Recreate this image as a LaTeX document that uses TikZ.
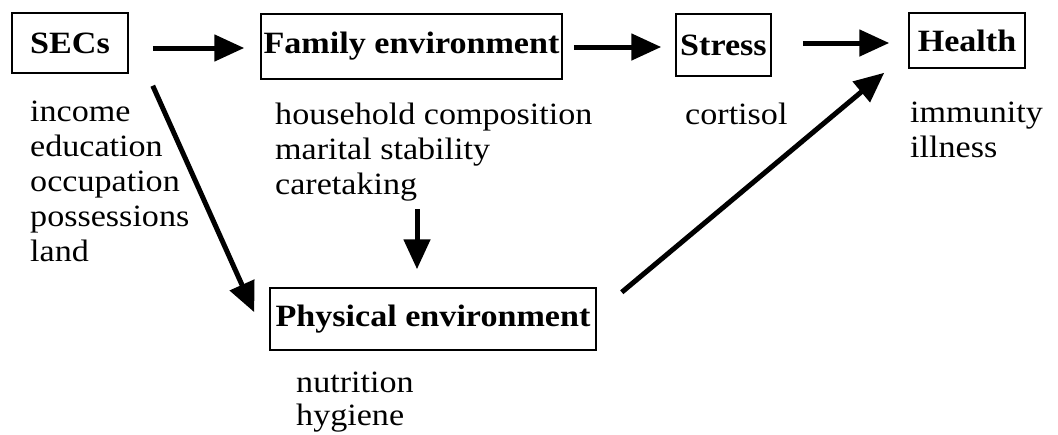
\documentclass[tikz,border=0pt]{standalone}
\usepackage{fontspec}
\setmainfont{Liberation Serif}[FakeStretch=1.1]
\usetikzlibrary{arrows.meta,calc}
\tikzset{
  box/.style={draw,line width=1.5pt,inner sep=0pt,font=\fontsize{31}{35}\selectfont\bfseries},
  lab/.style={anchor=base west,inner sep=0pt,align=left,font=\fontsize{31}{35}\selectfont},
  arr/.style={line width=5pt,-{Triangle[length=30pt,width=26pt]}},
}
\begin{document}
\begin{tikzpicture}[x=1pt,y=-1pt]
\useasboundingbox (0,0) rectangle (1058,434);
\node[box,minimum width=116pt,minimum height=60pt] (secs) at (70,43) {SECs};
\node[box,minimum width=301pt,minimum height=65pt] (fam) at (411.5,46.5) {Family environment};
\node[box,minimum width=95pt,minimum height=62pt] (stress) at (723.5,45) {Stress};
\node[box,minimum width=116pt,minimum height=55pt] (health) at (967,40.5) {Health};
\node[box,minimum width=326pt,minimum height=62pt] (phys) at (433,319) {Physical environment};

\node[lab] (secslab) at (30,261) {income\\education\\occupation\\possessions\\land};
\node[lab] (famlab) at (275,194) {household composition\\marital stability\\caretaking};
\node[lab] (stresslab) at (685,124) {cortisol};
\node[lab] (healthlab) at (910,157) {immunity\\illness};
\node[lab,font=\fontsize{31}{33}\selectfont] (physlab) at (296,425) {nutrition\\hygiene};

\draw[arr,shorten <=24pt,shorten >=16pt] ([yshift=-5pt]secs.east) -- ([yshift=-1.5pt]fam.west);
\draw[arr,shorten <=11pt,shorten >=14pt] ([yshift=-0.5pt]fam.east) -- ([yshift=-2pt]stress.west);
\draw[arr,shorten <=31pt,shorten >=19pt] ([yshift=2pt]stress.east) -- ([yshift=-2.5pt]health.west);
\draw[arr] ($(secs.south east)+(24,12)$) -- ($(phys.north west)+(-15,25)$);
\draw[arr] ($(phys.north)+(-16,-78)$) -- ($(phys.north)+(-16,-18)$);
\draw[arr] ($(phys.north east)+(25,5)$) -- ($(health.south west)+(-24,4)$);
\end{tikzpicture}
\end{document}
